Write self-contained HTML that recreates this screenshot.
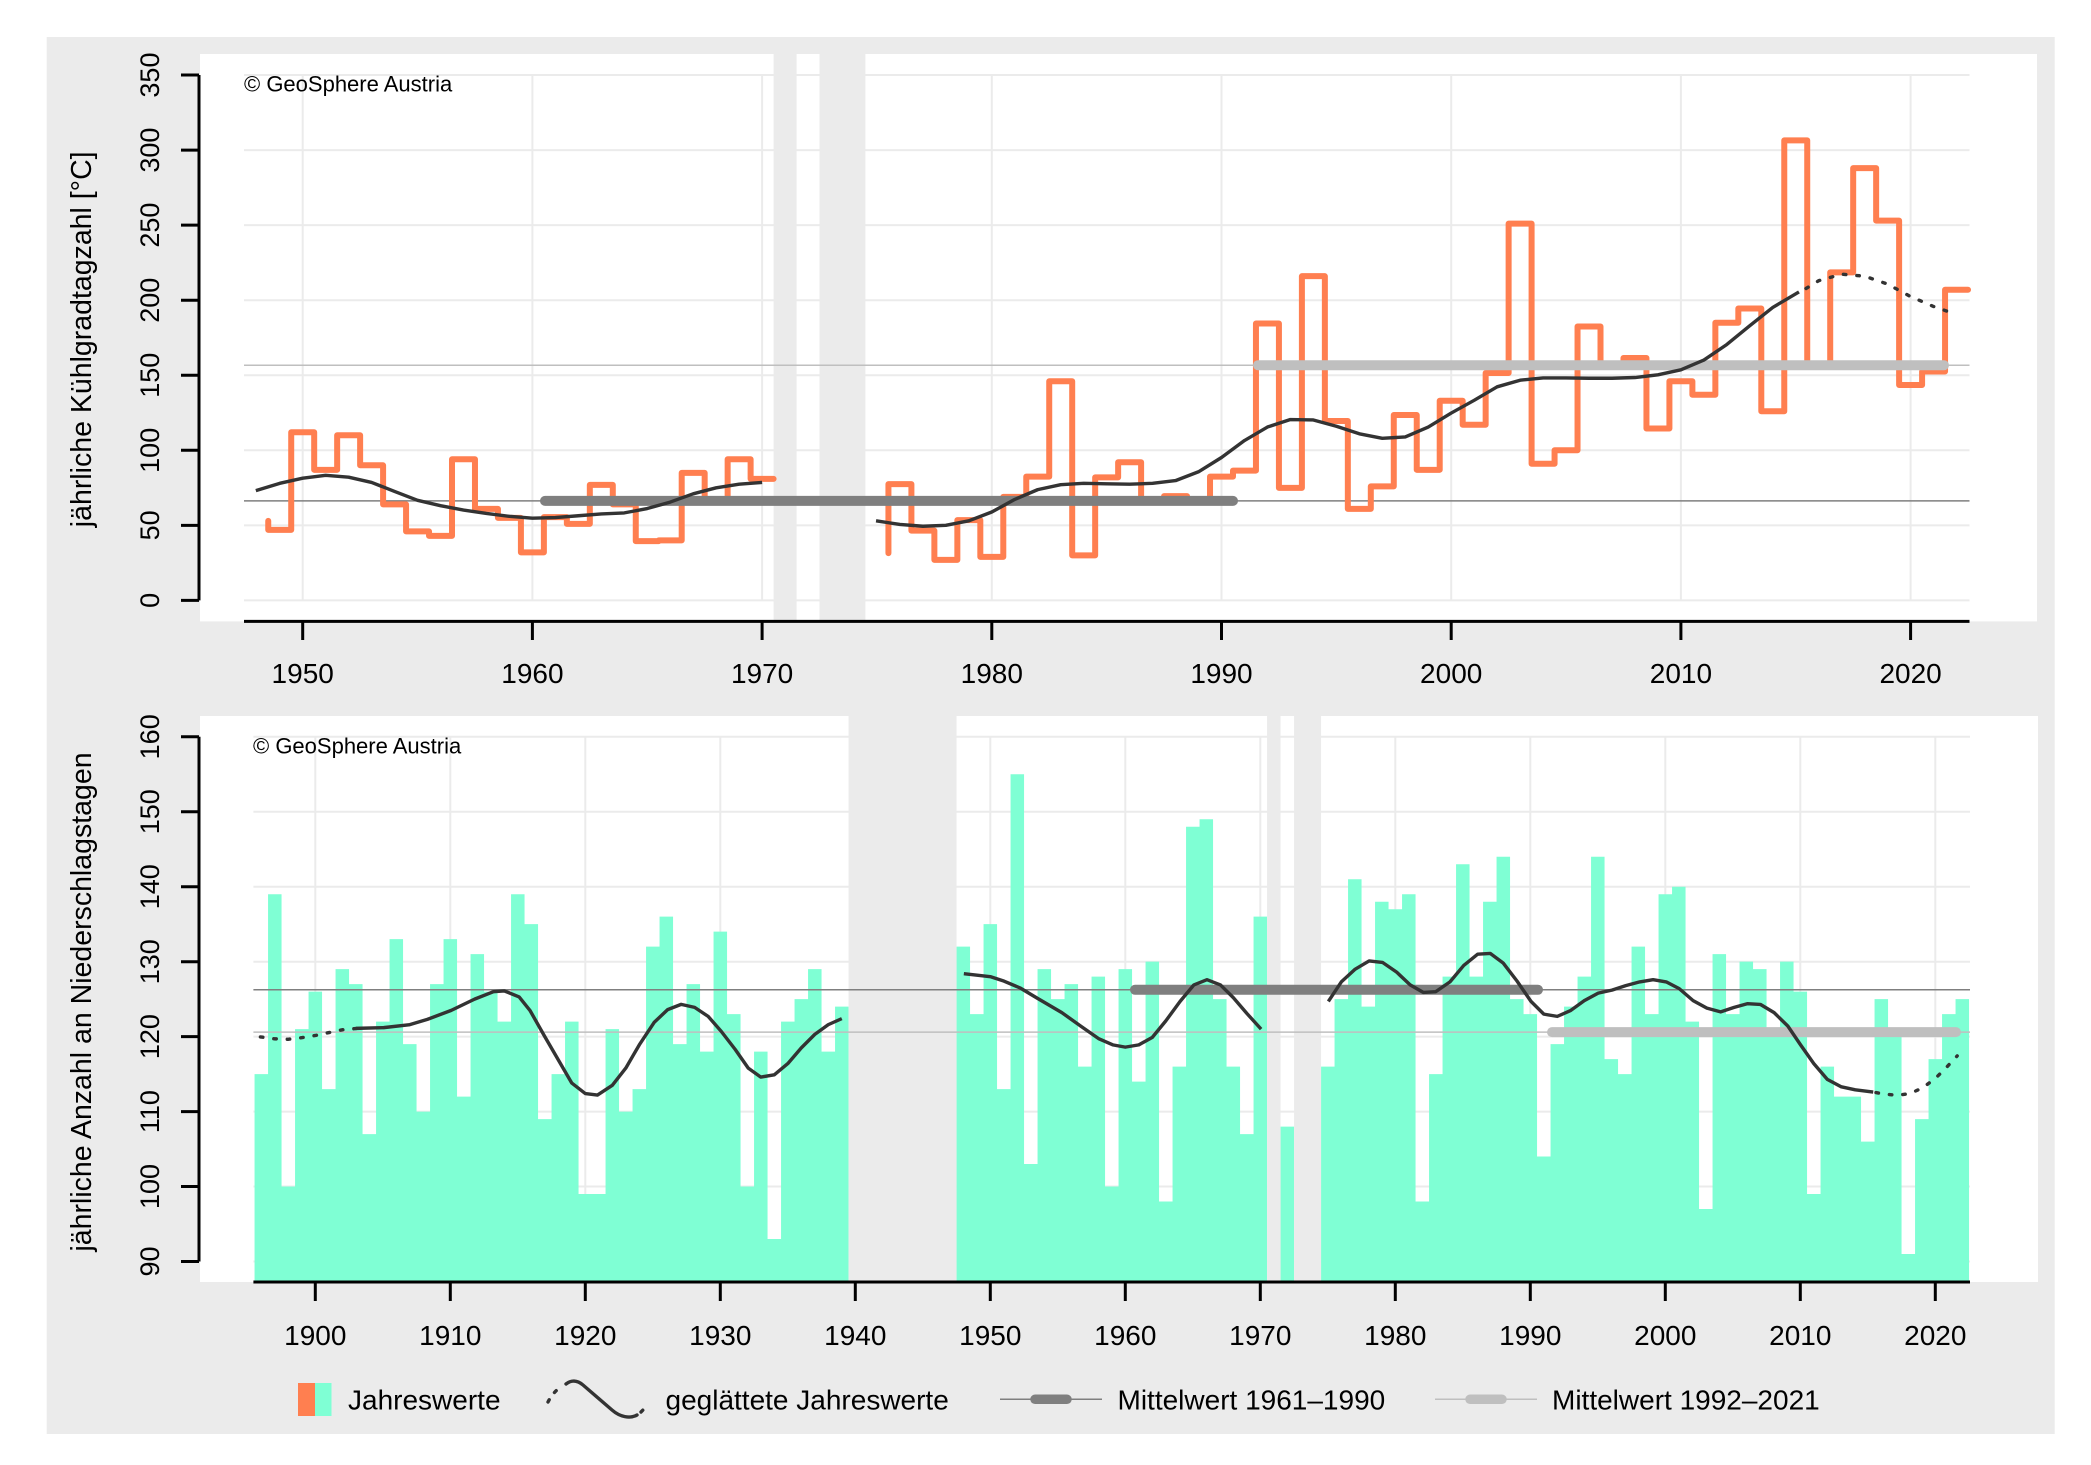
<!DOCTYPE html>
<html><head><meta charset="utf-8"><style>
html,body{margin:0;padding:0;background:#fff;width:2091px;height:1465px;overflow:hidden}
svg{display:block}
text{font-family:"Liberation Sans",Arial,sans-serif;fill:#000}
</style></head><body>
<svg width="2091" height="1465" viewBox="0 0 2091 1465" xmlns="http://www.w3.org/2000/svg">
<rect x="0" y="0" width="2091" height="1465" fill="#fff"/>
<rect x="46.7" y="37" width="2008" height="1397" fill="#ebebeb"/>

<!-- ================= TOP CHART ================= -->
<rect x="200" y="54" width="1837" height="567.4" fill="#fff"/>
<g stroke="#ebebeb" stroke-width="2" fill="none">
<path d="M244 600.4H1969.5M244 525.35H1969.5M244 450.3H1969.5M244 375.25H1969.5M244 300.2H1969.5M244 225.15H1969.5M244 150.1H1969.5M244 75.05H1969.5"/>
<path d="M302.7 75V600.4M532.4 75V600.4M762.1 75V600.4M991.8 75V600.4M1221.5 75V600.4M1451.2 75V600.4M1680.9 75V600.4M1910.6 75V600.4"/>
</g>
<rect x="773.6" y="54" width="23" height="567" fill="#ebebeb"/>
<rect x="819.5" y="54" width="45.9" height="567" fill="#ebebeb"/>
<line x1="244" y1="500.9" x2="1969.5" y2="500.9" stroke="#7f7f7f" stroke-width="1.5"/>
<line x1="244" y1="365.2" x2="1969.5" y2="365.2" stroke="#bfbfbf" stroke-width="1.5"/>

<g transform="matrix(22.97 0 0 -1.501 -845.8 600.4)">
<path vector-effect="non-scaling-stroke" fill="none" stroke="#ff7f50" stroke-width="6" stroke-linejoin="round" stroke-linecap="round"
d="M48.5 53V47H49.5V112H50.5V87H51.5V110H52.5V90H53.5V64H54.5V46H55.5V43H56.5V94H57.5V61H58.5V55H59.5V32H60.5V55.5H61.5V51H62.5V77H63.5V64H64.5V39.5H65.5V40H66.5V85H67.5V67H68.5V94H69.5V81H70.5"/>
<path vector-effect="non-scaling-stroke" fill="none" stroke="#ff7f50" stroke-width="6" stroke-linejoin="round" stroke-linecap="round"
d="M75.5 31.5V77.5H76.5V46.5H77.5V27H78.5V53.5H79.5V29H80.5V69H81.5V82.5H82.5V146H83.5V30H84.5V82H85.5V92H86.5V67H87.5V69.5H88.5V67H89.5V82.5H90.5V86.5H91.5V184.5H92.5V75H93.5V216H94.5V119.5H95.5V61H96.5V76H97.5V123.5H98.5V87H99.5V133H100.5V117H101.5V151.5H102.5V251H103.5V91H104.5V100H105.5V182.5H106.5V157H107.5V161.5H108.5V114.5H109.5V146H110.5V137H111.5V185H112.5V194.5H113.5V126H114.5V306.5H115.5V156H116.5V218.5H117.5V288H118.5V253H119.5V143.5H120.5V152.5H121.5V207H122.5"/>
</g>
<g stroke-linecap="round">
<line x1="545" y1="500.9" x2="1233" y2="500.9" stroke="#7f7f7f" stroke-width="10"/>
<line x1="1258" y1="365.2" x2="1944" y2="365.2" stroke="#bfbfbf" stroke-width="10"/>
</g>
<g transform="matrix(22.97 0 0 -1.501 -845.8 600.4)">
<path vector-effect="non-scaling-stroke" fill="none" stroke="#333" stroke-width="3.4" stroke-linejoin="round"
d="M47.96 73.1L49 78L50 81.4L51 83.3L52 82.1L53 78.6L54 72.6L55 66.7L56 63.1L57 60.2L58 57.9L59 56L60 54.8L61 55.2L62 56.4L63 57.6L64 58.3L65 61.2L66 65.5L67 71L68 75L69 77.4L70 78.6"/>
<path vector-effect="non-scaling-stroke" fill="none" stroke="#333" stroke-width="3.4" stroke-linejoin="round"
d="M74.96 53L76 50.6L77 49.4L78 50L79 53L80 58.9L81 67.3L82 73.8L83 77.1L84 78L85 77.7L86 77.4L87 78L88 79.8L89 85.7L90 95.2L91 106.5L92 115.5L93 120.5L94 120.2L95 116L96 111L97 108L98 108.9L99 115.5L100 124.8L101 133.3L102 142.3L103 146.7L104 148.2L105 148.2L106 148L107 148L108 148.5L109 150.3L110 153.6L111 160.1L112 170.5L113 183L114 195.2L115.14 205.5"/>
</g>
<path d="M1806 288.5L1818.7 280.7L1841.7 274.2L1864.7 276.2L1887.6 284.1L1910.6 296.6L1933.6 306.5L1956.5 314.5" fill="none" stroke="#333" stroke-width="3.4" stroke-dasharray="2.5 11" stroke-linecap="round"/>

<!-- top axes -->
<g stroke="#000" stroke-width="3" fill="none">
<path d="M199 75.05V600.4"/>
<path d="M181 600.4H199M181 525.35H199M181 450.3H199M181 375.25H199M181 300.2H199M181 225.15H199M181 150.1H199M181 75.05H199"/>
<path d="M244 621.4H1969.5"/>
<path d="M302.7 621V640M532.4 621V640M762.1 621V640M991.8 621V640M1221.5 621V640M1451.2 621V640M1680.9 621V640M1910.6 621V640"/>
</g>
<g font-size="27" text-anchor="middle">
<text transform="translate(159,600.4) rotate(-90)">0</text>
<text transform="translate(159,525.35) rotate(-90)">50</text>
<text transform="translate(159,450.3) rotate(-90)">100</text>
<text transform="translate(159,375.25) rotate(-90)">150</text>
<text transform="translate(159,300.2) rotate(-90)">200</text>
<text transform="translate(159,225.15) rotate(-90)">250</text>
<text transform="translate(159,150.1) rotate(-90)">300</text>
<text transform="translate(159,75.05) rotate(-90)">350</text>
</g>
<g font-size="28" text-anchor="middle">
<text x="302.7" y="683">1950</text>
<text x="532.4" y="683">1960</text>
<text x="762.1" y="683">1970</text>
<text x="991.8" y="683">1980</text>
<text x="1221.5" y="683">1990</text>
<text x="1451.2" y="683">2000</text>
<text x="1680.9" y="683">2010</text>
<text x="1910.6" y="683">2020</text>
</g>
<text transform="translate(91,339.3) rotate(-90)" font-size="28.5" text-anchor="middle">jährliche Kühlgradtagzahl [°C]</text>
<text x="244" y="91.5" font-size="22">© GeoSphere Austria</text>

<!-- ================= BOTTOM CHART ================= -->
<rect x="200" y="716" width="1838" height="566" fill="#fff"/>
<g stroke="#ebebeb" stroke-width="2" fill="none">
<path d="M253.4 1261.5H1970M253.4 1186.5H1970M253.4 1111.6H1970M253.4 1036.6H1970M253.4 961.7H1970M253.4 886.7H1970M253.4 811.7H1970M253.4 736.8H1970"/>
<path d="M315.3 736.8V1261.5M450.3 736.8V1261.5M585.3 736.8V1261.5M720.3 736.8V1261.5M855.3 736.8V1261.5M990.3 736.8V1261.5M1125.3 736.8V1261.5M1260.3 736.8V1261.5M1395.3 736.8V1261.5M1530.3 736.8V1261.5M1665.3 736.8V1261.5M1800.3 736.8V1261.5M1935.3 736.8V1261.5"/>
</g>
<g transform="matrix(13.5 0 0 -7.496 315.3 1936.14)" fill="#7fffd4">
<path d="M-4.5 87.2V115H-3.5V139H-2.5V100H-1.5V121H-0.5V126H0.5V113H1.5V129H2.5V127H3.5V107H4.5V122H5.5V133H6.5V119H7.5V110H8.5V127H9.5V133H10.5V112H11.5V131H12.5V126H13.5V122H14.5V139H15.5V135H16.5V109H17.5V115H18.5V122H19.5V99H20.5V99H21.5V121H22.5V110H23.5V113H24.5V132H25.5V136H26.5V119H27.5V127H28.5V118H29.5V134H30.5V123H31.5V100H32.5V118H33.5V93H34.5V122H35.5V125H36.5V129H37.5V118H38.5V124H39.5V87.2Z"/>
<path d="M47.5 87.2V132H48.5V123H49.5V135H50.5V113H51.5V155H52.5V103H53.5V129H54.5V125H55.5V127H56.5V116H57.5V128H58.5V100H59.5V129H60.5V114H61.5V130H62.5V98H63.5V116H64.5V148H65.5V149H66.5V125H67.5V116H68.5V107H69.5V136H70.5V87.2Z"/>
<path d="M71.5 87.2V108H72.5V87.2Z"/>
<path d="M74.5 87.2V116H75.5V125H76.5V141H77.5V124H78.5V138H79.5V137H80.5V139H81.5V98H82.5V115H83.5V128H84.5V143H85.5V128H86.5V138H87.5V144H88.5V125H89.5V123H90.5V104H91.5V119H92.5V124H93.5V128H94.5V144H95.5V117H96.5V115H97.5V132H98.5V123H99.5V139H100.5V140H101.5V122H102.5V97H103.5V131H104.5V123H105.5V130H106.5V129H107.5V120H108.5V130H109.5V126H110.5V99H111.5V116H112.5V112H113.5V112H114.5V106H115.5V125H116.5V120H117.5V91H118.5V109H119.5V117H120.5V123H121.5V125H122.5V87.2Z"/>
</g>
<rect x="848.55" y="716" width="108" height="566" fill="#ebebeb"/>
<rect x="1267.05" y="716" width="13.5" height="566" fill="#ebebeb"/>
<rect x="1294.05" y="716" width="27" height="566" fill="#ebebeb"/>
<line x1="253.4" y1="989.8" x2="1970" y2="989.8" stroke="#7f7f7f" stroke-width="1.5"/>
<line x1="253.4" y1="1032.1" x2="1970" y2="1032.1" stroke="#bfbfbf" stroke-width="1.5"/>
<g stroke-linecap="round">
<line x1="1135" y1="989.8" x2="1538" y2="989.8" stroke="#7f7f7f" stroke-width="10"/>
<line x1="1552" y1="1032.1" x2="1956" y2="1032.1" stroke="#bfbfbf" stroke-width="10"/>
</g>
<g transform="matrix(13.5 0 0 -7.496 315.3 1936.14)">
<path vector-effect="non-scaling-stroke" fill="none" stroke="#333" stroke-width="3.4" stroke-linejoin="round"
d="M3 121.1L5.07 121.2L7 121.6L8.3 122.3L10.07 123.5L11.8 125L13.2 126L14 126.1L15.1 125.3L15.9 123.5L17 120L18 116.9L19 113.8L20 112.4L20.9 112.2L22 113.5L23 115.8L24 118.9L25.1 121.9L26.1 123.6L27.1 124.3L28.1 123.9L29.1 122.7L30.07 120.7L31.1 118.3L32.07 115.8L33 114.6L34 114.9L35 116.4L36 118.5L37 120.3L38 121.6L39 122.4"/>
<path vector-effect="non-scaling-stroke" fill="none" stroke="#333" stroke-width="3.4" stroke-linejoin="round"
d="M48.04 128.4L50 128L51.02 127.4L52.2 126.5L53.5 125.1L55.3 123.2L56.7 121.4L58.05 119.7L59.07 118.9L60 118.6L61 118.9L62 119.9L63 122.1L64.06 124.7L65.08 126.9L66.05 127.6L67.05 126.9L68 125.2L69 123.1L70.06 121"/>
<path vector-effect="non-scaling-stroke" fill="none" stroke="#333" stroke-width="3.4" stroke-linejoin="round"
d="M75.04 124.7L76 127.3L77.03 129L78.06 130.1L79.05 129.9L80.1 128.6L81.1 126.9L82.07 125.9L83 126L84.05 127.3L85.07 129.5L86.1 131L87.03 131.1L88 129.8L89.02 127.4L90.05 124.7L91 123L92 122.7L93 123.5L94 124.8L95.03 125.8L96.05 126.2L97.07 126.8L98.1 127.3L99.1 127.6L100.07 127.3L101.03 126.4L102.06 124.8L103.08 123.8L104.1 123.3L105.1 123.9L106.1 124.4L107.04 124.3L108.06 123.2L109.08 121.4L110.02 118.9L111 116.4L112 114.3L113.04 113.3L114.07 112.9L115.4 112.6"/>
</g>
<g fill="none" stroke="#333" stroke-width="3.4" stroke-dasharray="2.5 11" stroke-linecap="round">
<path d="M260.4 1036.9L274.3 1038.8L288.3 1039.3L302.3 1037.6L316.2 1035.3L330.2 1032.3L344.2 1029.4L355.8 1028.6"/>
<path d="M1876 1092.6L1882.9 1093.8L1896.7 1095.4L1910.5 1093.4L1923.2 1087.5L1936.2 1077.6L1946.9 1066.9L1957.2 1055.9"/>
</g>

<!-- bottom axes -->
<g stroke="#000" stroke-width="3" fill="none">
<path d="M199 736.8V1261.5"/>
<path d="M181 1261.5H199M181 1186.5H199M181 1111.6H199M181 1036.6H199M181 961.7H199M181 886.7H199M181 811.7H199M181 736.8H199"/>
<path d="M253.4 1282H1970"/>
<path d="M315.3 1282V1301M450.3 1282V1301M585.3 1282V1301M720.3 1282V1301M855.3 1282V1301M990.3 1282V1301M1125.3 1282V1301M1260.3 1282V1301M1395.3 1282V1301M1530.3 1282V1301M1665.3 1282V1301M1800.3 1282V1301M1935.3 1282V1301"/>
</g>
<g font-size="27" text-anchor="middle">
<text transform="translate(159,1261.5) rotate(-90)">90</text>
<text transform="translate(159,1186.5) rotate(-90)">100</text>
<text transform="translate(159,1111.6) rotate(-90)">110</text>
<text transform="translate(159,1036.6) rotate(-90)">120</text>
<text transform="translate(159,961.7) rotate(-90)">130</text>
<text transform="translate(159,886.7) rotate(-90)">140</text>
<text transform="translate(159,811.7) rotate(-90)">150</text>
<text transform="translate(159,736.8) rotate(-90)">160</text>
</g>
<g font-size="28" text-anchor="middle">
<text x="315.3" y="1345">1900</text>
<text x="450.3" y="1345">1910</text>
<text x="585.3" y="1345">1920</text>
<text x="720.3" y="1345">1930</text>
<text x="855.3" y="1345">1940</text>
<text x="990.3" y="1345">1950</text>
<text x="1125.3" y="1345">1960</text>
<text x="1260.3" y="1345">1970</text>
<text x="1395.3" y="1345">1980</text>
<text x="1530.3" y="1345">1990</text>
<text x="1665.3" y="1345">2000</text>
<text x="1800.3" y="1345">2010</text>
<text x="1935.3" y="1345">2020</text>
</g>
<text transform="translate(91,1002) rotate(-90)" font-size="28.5" text-anchor="middle">jährliche Anzahl an Niederschlagstagen</text>
<text x="253" y="753.5" font-size="22">© GeoSphere Austria</text>

<!-- ================= LEGEND ================= -->
<rect x="298" y="1383" width="17" height="33" fill="#ff7f50"/>
<rect x="315" y="1383" width="16.5" height="33" fill="#7fffd4"/>
<text x="348" y="1409.5" font-size="28">Jahreswerte</text>
<g fill="none" stroke="#333" stroke-width="3.4" stroke-linecap="round">
<path d="M548 1402Q553 1392 562 1386" stroke-dasharray="2.5 9"/>
<path d="M566 1384C571 1380 577 1380 583 1385L612 1410C620 1417 630 1419 637 1415"/>
<path d="M641 1412L648 1405" stroke-dasharray="2.5 9"/>
</g>
<text x="665.5" y="1409.5" font-size="28">geglättete Jahreswerte</text>
<line x1="1000" y1="1399.3" x2="1102" y2="1399.3" stroke="#7f7f7f" stroke-width="1.5"/>
<line x1="1035" y1="1399.3" x2="1067" y2="1399.3" stroke="#7f7f7f" stroke-width="9.5" stroke-linecap="round"/>
<text x="1117.5" y="1409.5" font-size="28">Mittelwert 1961–1990</text>
<line x1="1435" y1="1399.3" x2="1537" y2="1399.3" stroke="#bfbfbf" stroke-width="1.5"/>
<line x1="1470" y1="1399.3" x2="1502" y2="1399.3" stroke="#bfbfbf" stroke-width="9.5" stroke-linecap="round"/>
<text x="1552" y="1409.5" font-size="28">Mittelwert 1992–2021</text>
</svg>
</body></html>
